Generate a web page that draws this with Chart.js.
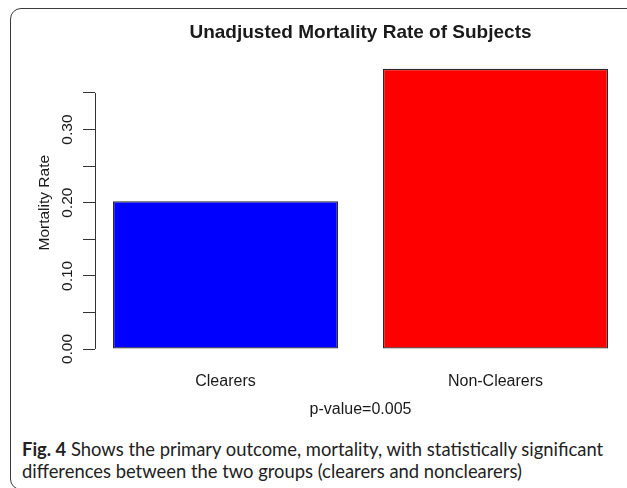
<!DOCTYPE html>
<html>
<head>
<meta charset="utf-8">
<script src="https://cdn.jsdelivr.net/npm/chart.js@4/dist/chart.umd.min.js"></script>
<style>
  html, body { margin: 0; padding: 0; background: #fff; overflow: hidden; }
  body { width: 627px; height: 488px; position: relative; }
  #frame {
    position: absolute; left: 10px; top: 8px; width: 700px; height: 480px;
    border: 1.5px solid #3a3a3a; border-radius: 11px;
  }
  #chart { position: absolute; left: 0; top: 0; }
  #caption {
    position: absolute; left: 22px; top: 438px; width: 610px;
    font-family: Lato, "Open Sans", sans-serif; font-size: 18.4px; line-height: 22px; color: #222;
  }
  #caption b { font-weight: bold; }
</style>
</head>
<body>
<div id="frame"></div>
<canvas id="chart" width="627" height="425"></canvas>
<div id="caption"><b>Fig. 4</b> Shows the primary outcome, mortality, with statistically significant differences between the two groups (clearers and nonclearers)</div>
<script>
var categories = ['Clearers', 'Non-Clearers'];
var mortality = [0.202, 0.383];
var barColors = ['#0000ff', '#ff0000'];
var yTickValues = [0, 0.05, 0.10, 0.15, 0.20, 0.25, 0.30, 0.35];
var yTickLabels = ['0.00', '', '0.10', '', '0.20', '', '0.30', ''];

var font = 'Liberation Sans, Arial, sans-serif';

// R style axis line: only from first to last tick
var rAxis = {
  id: 'rAxis',
  afterDraw: function(chart) {
    var y = chart.scales.y;
    var ctx = chart.ctx;
    var x = Math.round(y.right) + 0.5;
    ctx.save();
    ctx.strokeStyle = '#333';
    ctx.lineWidth = 1;
    ctx.beginPath();
    ctx.moveTo(x, y.getPixelForValue(yTickValues[0]));
    ctx.lineTo(x, y.getPixelForValue(yTickValues[yTickValues.length - 1]));
    ctx.stroke();
    ctx.restore();
  }
};

var ctx = document.getElementById('chart').getContext('2d');
var myChart = new Chart(ctx, {
  type: 'bar',
  data: {
    datasets: [{
      data: mortality.map(function(v, i) { return {x: i, y: v}; }),
      backgroundColor: barColors,
      borderColor: '#2a2a2a',
      borderWidth: 1.3,
      borderSkipped: false,
      barPercentage: 0.8333,
      categoryPercentage: 1
    }]
  },
  options: {
    responsive: false,
    animation: false,
    layout: { padding: { left: 0, right: 1, top: 0, bottom: 0 } },
    plugins: {
      legend: { display: false },
      tooltip: { enabled: false },
      title: {
        display: true,
        fullSize: false,
        text: 'Unadjusted Mortality Rate of Subjects',
        color: '#1a1a1a',
        font: { family: font, size: 19, weight: 'bold' },
        padding: { top: 21.6, bottom: 12 }
      }
    },
    scales: {
      x: {
        type: 'linear',
        offset: false,
        min: -0.4833,
        max: 1.4833,
        afterBuildTicks: function(s) {
          s.ticks = categories.map(function(c, i) { return {value: i}; });
        },
        afterFit: function(s) { s.height = 76; },
        ticks: {
          padding: 23,
          color: '#1a1a1a',
          font: { family: font, size: 16 },
          callback: function(v) { return categories[v]; }
        },
        grid: { display: false, drawTicks: false, offset: false },
        border: { display: false },
        title: {
          display: true,
          text: 'p-value=0.005',
          color: '#1a1a1a',
          font: { family: font, size: 16 },
          padding: { top: 0, bottom: 5.4 }
        }
      },
      y: {
        min: 0,
        max: 0.4,
        afterBuildTicks: function(s) {
          s.ticks = yTickValues.map(function(v) { return {value: v}; });
        },
        afterFit: function(s) { s.width = 95; },
        ticks: {
          minRotation: 90,
          maxRotation: 90,
          crossAlign: 'center',
          padding: 0,
          color: '#1a1a1a',
          font: { family: font, size: 15.5 },
          callback: function(v, i) { return yTickLabels[i]; }
        },
        grid: { drawOnChartArea: false, drawTicks: true, tickLength: 12, color: '#333' },
        border: { display: false },
        title: {
          display: true,
          text: 'Mortality Rate',
          color: '#1a1a1a',
          font: { family: font, size: 15.5 },
          padding: { top: 35.7, bottom: 0 }
        }
      }
    }
  },
  plugins: [rAxis]
});
</script>
</body>
</html>
